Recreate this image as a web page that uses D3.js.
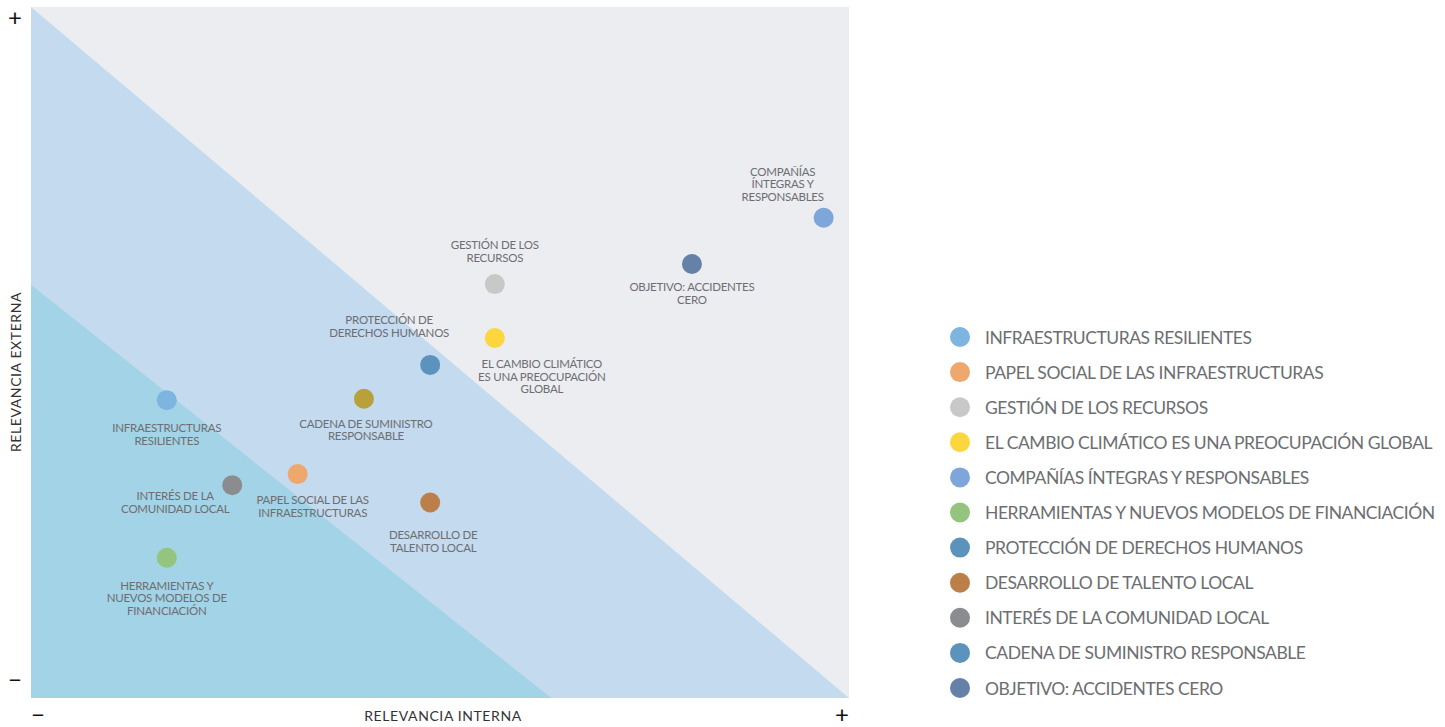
<!DOCTYPE html>
<html>
<head>
<meta charset="utf-8">
<script src="https://cdn.jsdelivr.net/npm/d3@7"></script>
<style>
  body { margin: 0; padding: 0; background: #fff; }
  svg text { font-family: Lato, "Open Sans", sans-serif; }
</style>
</head>
<body>
<svg id="chart" width="1445" height="727"></svg>
<script>
// ~~~~~ data ~~~~~
var topics = [
  "INFRAESTRUCTURAS RESILIENTES",
  "PAPEL SOCIAL DE LAS INFRAESTRUCTURAS",
  "GESTIÓN DE LOS RECURSOS",
  "EL CAMBIO CLIMÁTICO ES UNA PREOCUPACIÓN GLOBAL",
  "COMPAÑÍAS ÍNTEGRAS Y RESPONSABLES",
  "HERRAMIENTAS Y NUEVOS MODELOS DE FINANCIACIÓN",
  "PROTECCIÓN DE DERECHOS HUMANOS",
  "DESARROLLO DE TALENTO LOCAL",
  "INTERÉS DE LA COMUNIDAD LOCAL",
  "CADENA DE SUMINISTRO RESPONSABLE",
  "OBJETIVO: ACCIDENTES CERO"
];
// point labels, split in lines as in the chart
var pointLabels = [
  ["INFRAESTRUCTURAS", "RESILIENTES"],
  ["PAPEL SOCIAL DE LAS", "INFRAESTRUCTURAS"],
  ["GESTIÓN DE LOS", "RECURSOS"],
  ["EL CAMBIO CLIMÁTICO", "ES UNA PREOCUPACIÓN", "GLOBAL"],
  ["COMPAÑÍAS", "ÍNTEGRAS Y", "RESPONSABLES"],
  ["HERRAMIENTAS Y", "NUEVOS MODELOS DE", "FINANCIACIÓN"],
  ["PROTECCIÓN DE", "DERECHOS HUMANOS"],
  ["DESARROLLO DE", "TALENTO LOCAL"],
  ["INTERÉS DE LA", "COMUNIDAD LOCAL"],
  ["CADENA DE SUMINISTRO", "RESPONSABLE"],
  ["OBJETIVO: ACCIDENTES", "CERO"]
];
var relInterna = [16.6, 32.6, 56.7, 56.7, 96.9, 16.6, 48.8, 48.8, 24.6, 40.7, 80.8];  // x
var relExterna = [43.1, 32.4, 59.9, 52.1, 69.5, 20.3, 48.2, 28.3, 30.8, 43.3, 62.8];  // y
var dotColors = ["#7db5e0", "#eea86e", "#c8c8c8", "#fdd63e", "#7fa6db", "#94c47d",
                 "#5b93bc", "#bd7f4a", "#8b8c90", "#b8a03a", "#6581a8"];
var legendColors = ["#7db5e0", "#eea86e", "#c8c8c8", "#fdd63e", "#7fa6db", "#94c47d",
                    "#5b93bc", "#bd7f4a", "#8b8c90", "#5b93bc", "#6581a8"];
var teal = { x: 63.6, y: 59.8 };  // inner zone corners on the axes

// label placement relative to the dot: [dx, dy of first line]
var labelPos = [[0, 32], [15, 30], [0, -35], [47, 30], [-41, -42], [0, 32],
                [-41, -41], [3, 37], [-57, 15], [2, 29], [0, 27]];

// ~~~~~ setup ~~~~~
var svg = d3.select("#chart");
var x = d3.scaleLinear().domain([0, 100]).range([31, 849]);
var y = d3.scaleLinear().domain([0, 100]).range([698, 7]);
var textCol = "#6d6e71";

svg.append("rect")
  .attr("x", x(0)).attr("y", y(100))
  .attr("width", x(100) - x(0)).attr("height", y(0) - y(100))
  .attr("fill", "#ecedf1");

var line = d3.line().x(d => x(d[0])).y(d => y(d[1]));
svg.append("path").attr("d", line([[0, 100], [100, 0], [0, 0]]) + "Z").attr("fill", "#c3daef");
svg.append("path").attr("d", line([[0, teal.y], [teal.x, 0], [0, 0]]) + "Z").attr("fill", "#a3d3e6");

// ~~~~~ dots ~~~~~
var pts = topics.map((t, i) => ({ x: relInterna[i], y: relExterna[i], c: dotColors[i], lab: pointLabels[i], off: labelPos[i] }));

svg.append("g").selectAll("circle")
  .data(pts).enter().append("circle")
  .attr("cx", d => x(d.x)).attr("cy", d => y(d.y))
  .attr("r", 10).attr("fill", d => d.c);

var labs = svg.append("g").selectAll("text")
  .data(pts).enter().append("text")
  .attr("text-anchor", "middle")
  .attr("font-size", 11.5)
  .attr("letter-spacing", -0.25)
  .attr("fill", textCol)
  .attr("x", d => x(d.x) + d.off[0])
  .attr("y", d => y(d.y) + d.off[1]);
labs.selectAll("tspan")
  .data(d => d.lab.map(s => ({ s: s, x: x(d.x) + d.off[0] })))
  .enter().append("tspan")
  .attr("x", d => d.x)
  .attr("dy", (d, i) => i ? 12.7 : 0)
  .text(d => d.s);

// ~~~~~ axes marks ~~~~~
function mark(px, py, s) {
  svg.append("text").attr("x", px).attr("y", py).attr("text-anchor", "middle")
    .attr("font-size", 24).attr("font-weight", 400).attr("fill", "#111").text(s);
}
mark(15, 26, "+");
mark(15, 688, "−");
mark(38, 723, "−");
mark(842, 723, "+");

svg.append("text").attr("x", 443).attr("y", 721).attr("text-anchor", "middle")
  .attr("font-size", 14).attr("letter-spacing", 0.6).attr("fill", "#333").text("RELEVANCIA INTERNA");
svg.append("text").attr("transform", "translate(21,372) rotate(-90)").attr("text-anchor", "middle")
  .attr("font-size", 14).attr("letter-spacing", 0.6).attr("fill", "#333").text("RELEVANCIA EXTERNA");

// ~~~~~ legend ~~~~~
var leg = svg.append("g").selectAll("g")
  .data(topics).enter().append("g")
  .attr("transform", (d, i) => "translate(960," + (337 + i * 35.1) + ")");
leg.append("circle").attr("r", 10).attr("fill", (d, i) => legendColors[i]);
leg.append("text").attr("x", 25).attr("y", 6.5)
  .attr("font-size", 17.5).attr("letter-spacing", -0.45)
  .attr("fill", textCol).text(d => d);
</script>
</body>
</html>
